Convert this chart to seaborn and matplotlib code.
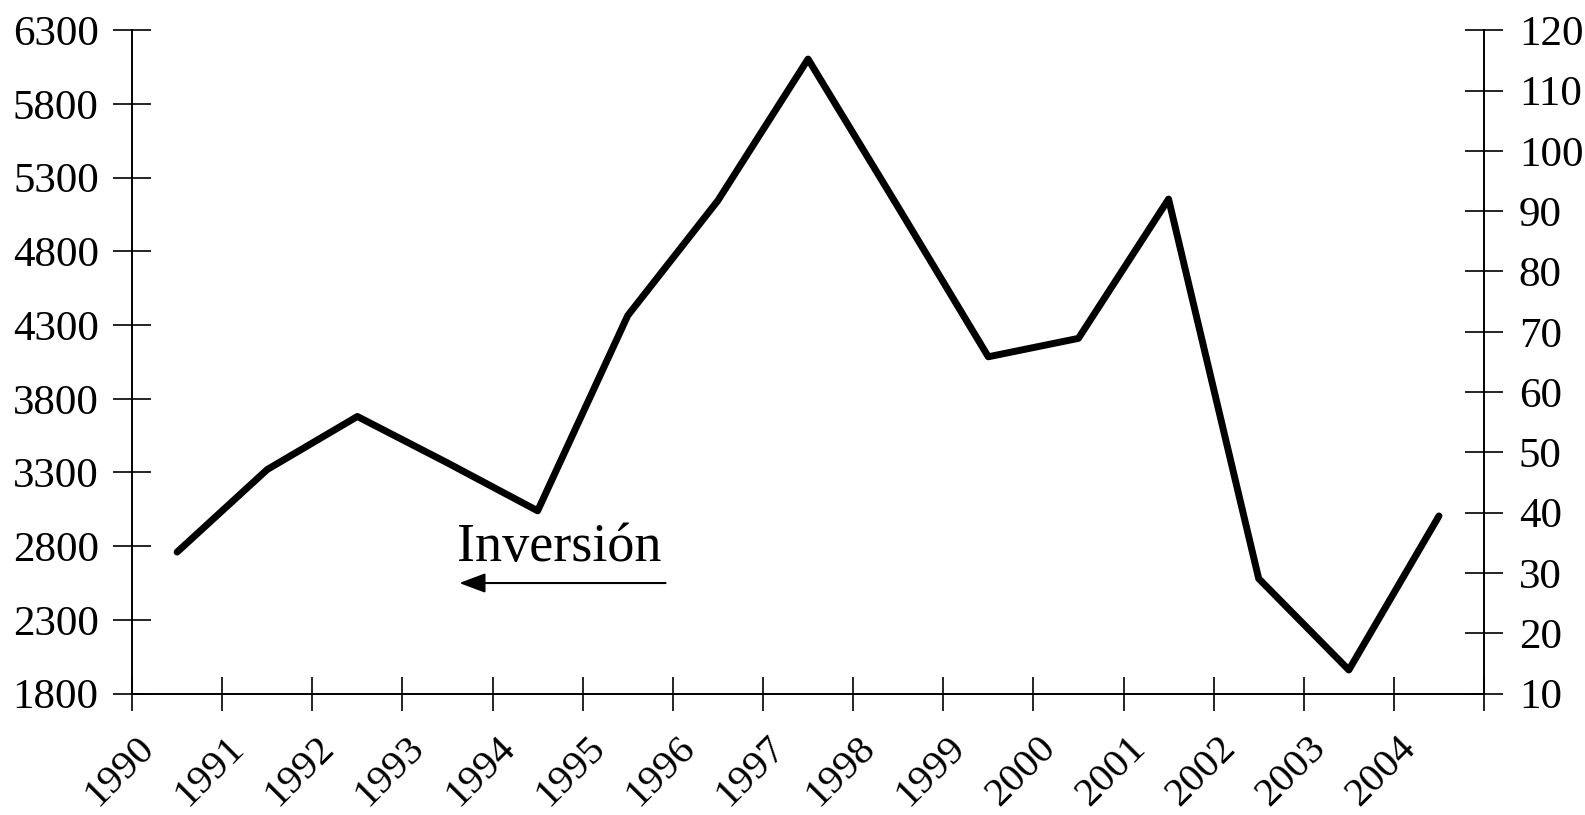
import matplotlib
matplotlib.use('Agg')
import matplotlib.pyplot as plt
import seaborn as sns
import pandas as pd

years = ['1990', '1991', '1992', '1993', '1994', '1995', '1996', '1997',
         '1998', '1999', '2000', '2001', '2002', '2003', '2004']
inversion = [2760, 3320, 3680, 3365, 3040, 4365, 5145, 6105,
             5100, 4085, 4210, 5155, 2580, 1960, 3005]
left_ticks = [1800, 2300, 2800, 3300, 3800, 4300, 4800, 5300, 5800, 6300]
right_ticks = [10, 20, 30, 40, 50, 60, 70, 80, 90, 100, 110, 120]

df = pd.DataFrame({'year': years, 'inversion': inversion})
df['pos'] = range(len(years))

sns.set_style('white')
plt.rcParams['font.family'] = ['Liberation Serif', 'DejaVu Serif']
plt.rcParams['text.color'] = 'black'
plt.rcParams['xtick.color'] = 'black'
plt.rcParams['ytick.color'] = 'black'

fig = plt.figure(figsize=(15.85, 8.15), dpi=100)
ax = fig.add_axes([0.0833, 0.149, 0.853, 0.8138])

sns.lineplot(data=df, x='pos', y='inversion', ax=ax, color='black', lw=5)

ax.set_xlim(-0.5, len(years) - 0.5)
ax.set_ylim(1800, 6300)
ax.set_yticks(left_ticks)
ax.set_xlabel('')
ax.set_ylabel('')

# category boundaries as tick marks, labels near the centres
ax.set_xticks([i - 0.5 for i in range(len(years) + 1)], minor=True)
ax.set_xticks(df['pos'] - 0.46)
ax.set_xticklabels(years, rotation=45, ha='right', rotation_mode='anchor')
ax.tick_params(axis='x', which='major', length=0, pad=26, labelsize=29.5, bottom=True)
ax.tick_params(axis='x', which='minor', direction='inout', length=24, width=1.2,
               color='black', bottom=True)
ax.tick_params(axis='y', direction='inout', length=28, width=1.2, color='black',
               pad=10, labelsize=31, left=True)

ax2 = ax.twinx()
ax2.set_ylim(10, 120)
ax2.set_yticks(right_ticks)
ax2.tick_params(axis='y', direction='inout', length=28, width=1.2, color='black',
                pad=11, labelsize=31, right=True)

for a in (ax, ax2):
    a.spines['top'].set_visible(False)
    for side in ('left', 'bottom', 'right'):
        a.spines[side].set_color('black')
        a.spines[side].set_linewidth(1.2)

ax.text(3.1, 2700, 'Inversión', fontsize=39, ha='left', va='baseline')
ax.annotate('', xy=(3.1, 2550), xytext=(5.45, 2550),
            arrowprops=dict(arrowstyle='-|>,head_length=1.6,head_width=0.6',
                            color='black', lw=1.5))

fig.savefig('out.png', dpi=100)
